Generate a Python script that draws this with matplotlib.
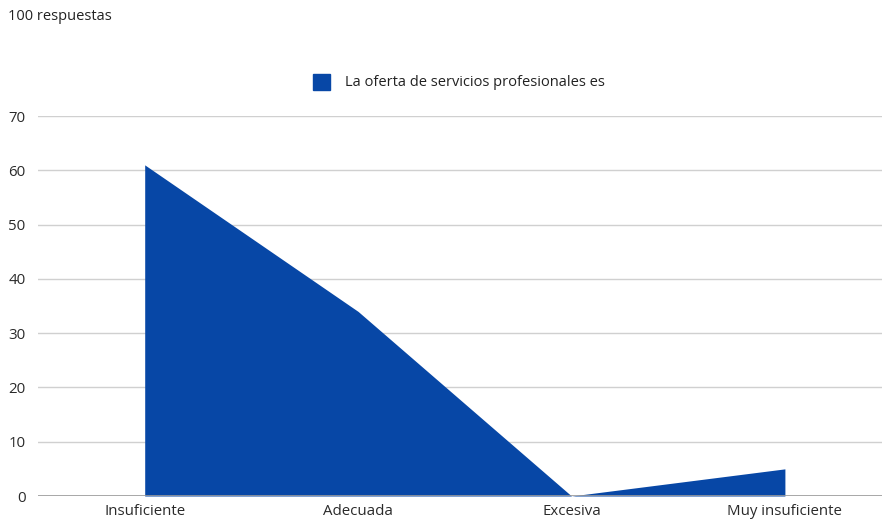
import matplotlib.pyplot as plt
from matplotlib.patches import Rectangle

categories = ["Insuficiente", "Adecuada", "Excesiva", "Muy insuficiente"]
values = [61, 34, 0, 5]
yticks = [0, 10, 20, 30, 40, 50, 60, 70]
series_label = "La oferta de servicios profesionales es"
header = "100 respuestas"

plt.rcParams['font.family'] = ['Open Sans', 'DejaVu Sans']

fig = plt.figure(figsize=(8.82, 5.2), dpi=100)
ax = fig.add_axes([38 / 882, 1 - 496 / 520, 1 - 38 / 882, (496 - 116) / 520])

xs = list(range(len(categories)))
blue = '#0747A6'
ax.fill_between(xs, values, 0, color=blue, linewidth=0)

ax.set_xlim(-0.5, 3.455)
ax.set_ylim(0, 70)
ax.set_yticks(yticks)
ax.set_xticks(xs)
ax.set_xticklabels(categories)
ax.grid(axis='y', color='#d0d0d0', linewidth=1)
ax.set_axisbelow(True)
for s in ax.spines.values():
    s.set_visible(False)
ax.axhline(0, color='#9a9a9a', linewidth=1.2, zorder=3)
ax.tick_params(length=0, labelsize=10.8, colors='#2a2a2a')
ax.tick_params(axis='y', pad=9)
ax.tick_params(axis='x', pad=6)

# legend
fig.patches.append(Rectangle((313 / 882, 1 - 90 / 520), 17 / 882, 16 / 520,
                             transform=fig.transFigure, color=blue))
fig.text(345 / 882, 1 - 82 / 520, series_label, fontsize=10.5, color='#222222',
         va='center', ha='left')
fig.text(8 / 882, 1 - 17 / 520, header, fontsize=10.5, color='#222222',
         va='center', ha='left')

plt.savefig('out.png', dpi=100)
